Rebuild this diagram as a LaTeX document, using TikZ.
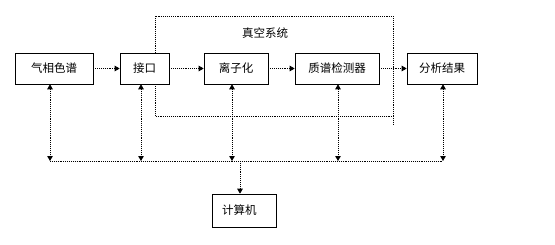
\documentclass[tikz,border=0pt]{standalone}
\usepackage{fontspec}
\setmainfont{Noto Sans CJK SC}
\usetikzlibrary{arrows.meta, positioning}
\tikzset{
  every picture/.style={x=1pt, y=-1pt, font=\fontsize{11.5}{13}\selectfont},
  block/.style={draw=black, fill=white, line width=0.6pt, minimum height=31pt, inner sep=2pt},
  link/.style={densely dotted, line width=0.9pt, {Triangle[length=5pt,width=5.5pt]}-{Triangle[length=5pt,width=5.5pt]}},
  flow/.style={densely dotted, line width=0.9pt, -{Triangle[length=5pt,width=5.5pt]}},
  frame/.style={densely dotted, line width=0.9pt},
}
\begin{document}
\begin{tikzpicture}
  \useasboundingbox (0,0) rectangle (555,244);
  % vacuum system frame
  \draw[frame] (155,16) rectangle (393,116);
  \draw[frame] (393,116) -- (393,124);
  \node (vac) at (265,33) {真空系统};
  % main chain
  \node[block, minimum width=78pt] (gc) at (54,68.5) {气相色谱};
  \node[block, minimum width=49pt] (intf) at (144.5,68.5) {接口};
  \node[block, minimum width=64pt] (ion) at (236,68.5) {离子化};
  \node[block, minimum width=84pt] (ms) at (337,68.5) {质谱检测器};
  \node[block, minimum width=70pt] (res) at (442,68.5) {分析结果};
  \draw[flow] (gc) -- (intf);
  \draw[flow] (intf) -- (ion);
  \draw[flow] (ion) -- (ms);
  \draw[flow] (ms) -- (res);
  % computer and bus
  \node[block, minimum width=64pt, minimum height=33pt, text width=44pt, inner xsep=10pt, align=left] (pc) at (244,210.5) {计算机};
  \coordinate (b1) at (50,161);
  \coordinate (b2) at (141,161);
  \coordinate (b3) at (232,161);
  \coordinate (b4) at (338,161);
  \coordinate (b5) at (443,161);
  \coordinate (bc) at (240,161);
  \draw[frame] (b1) -- (b5);
  \draw[link] (b1 |- gc.south) -- (b1);
  \draw[link] (b2 |- intf.south) -- (b2);
  \draw[link] (b3 |- ion.south) -- (b3);
  \draw[link] (b4 |- ms.south) -- (b4);
  \draw[link] (b5 |- res.south) -- (b5);
  \draw[flow] (bc) -- (bc |- pc.north);
\end{tikzpicture}
\end{document}
